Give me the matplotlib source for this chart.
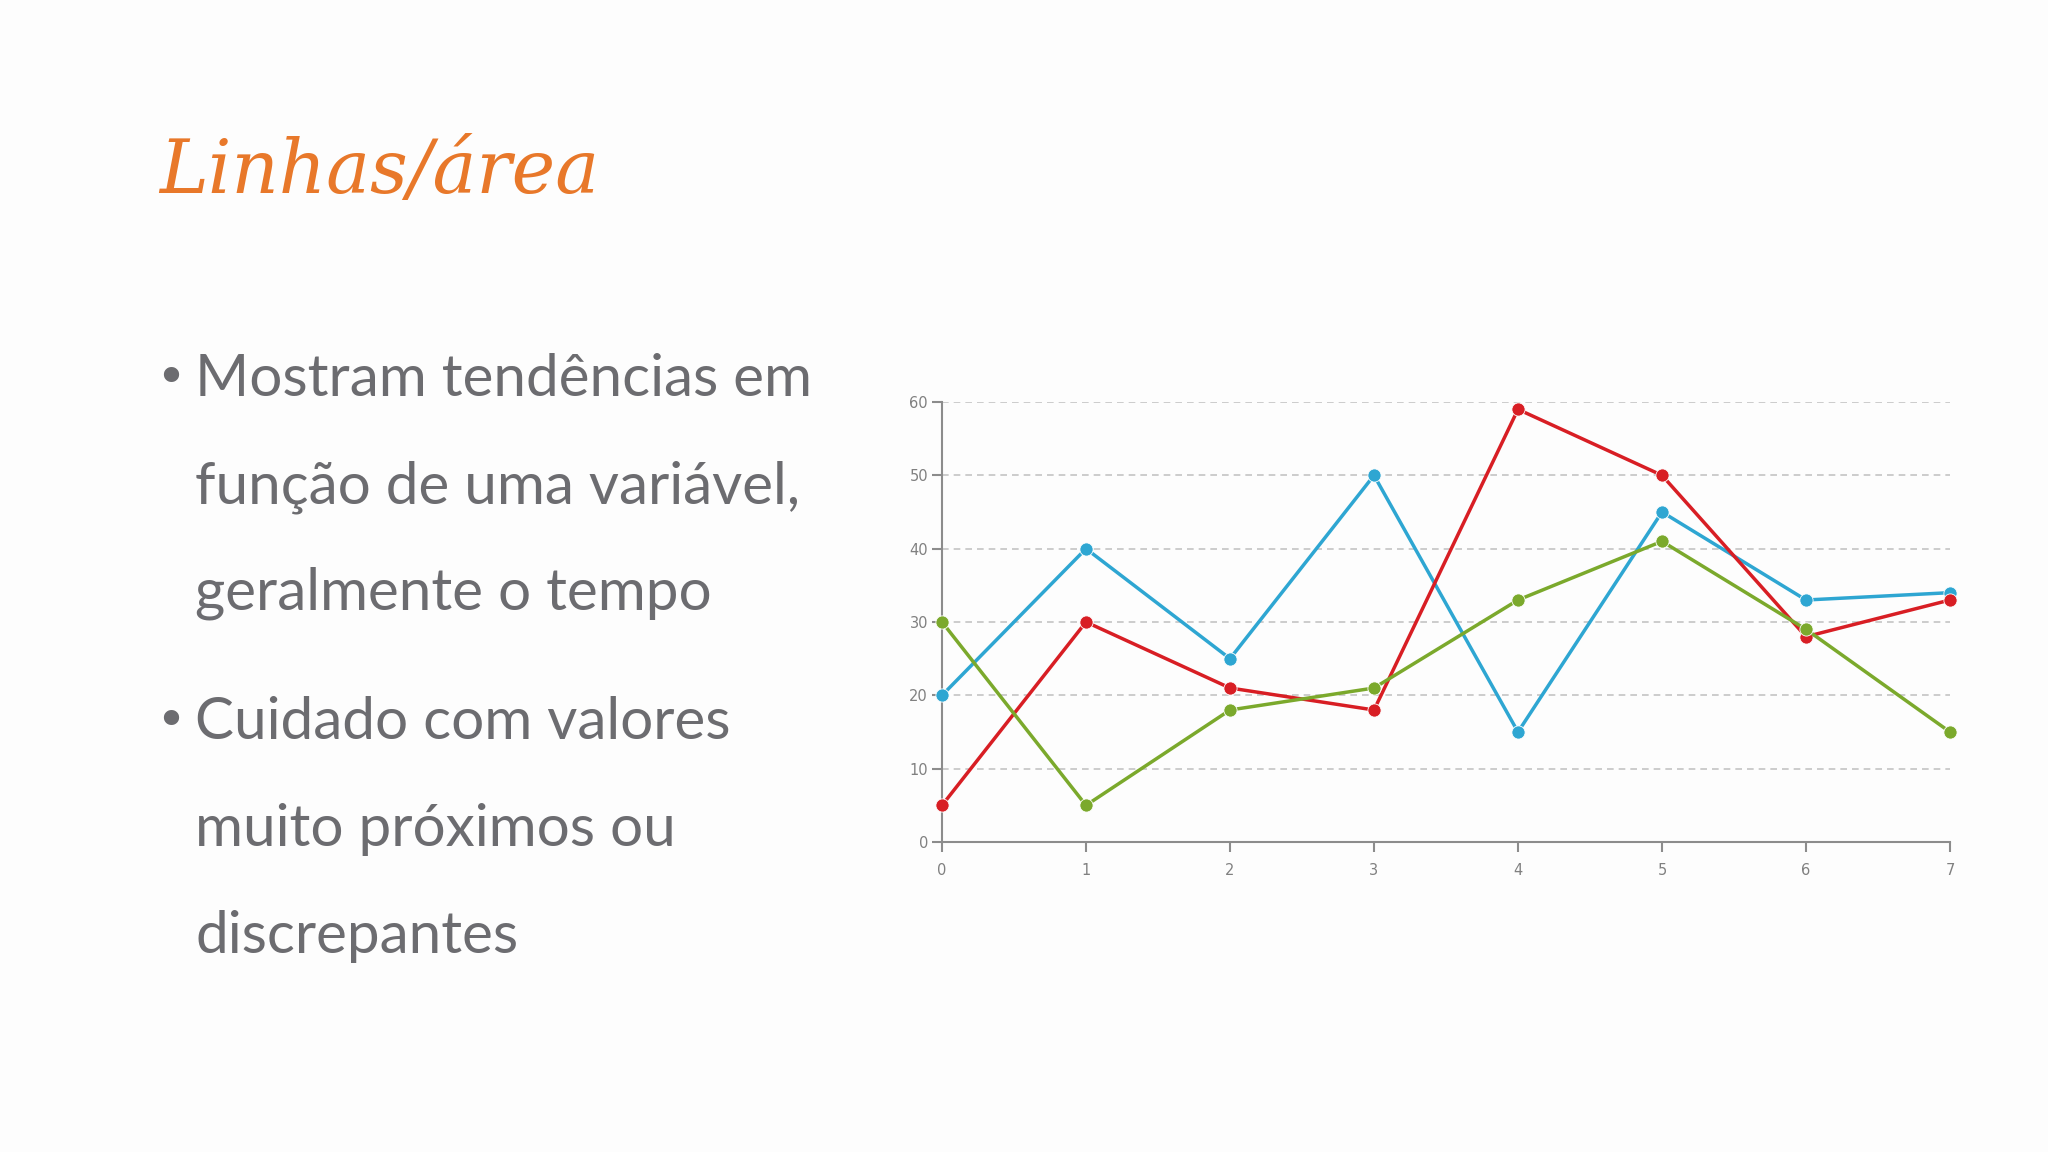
import matplotlib
matplotlib.use("Agg")
import matplotlib.pyplot as plt

# -------- DATA --------
x_vals = [0, 1, 2, 3, 4, 5, 6, 7]
blue_vals = [20, 40, 25, 50, 15, 45, 33, 34]
red_vals = [5, 30, 21, 18, 59, 50, 28, 33]
green_vals = [30, 5, 18, 21, 33, 41, 29, 15]
y_ticks = [0, 10, 20, 30, 40, 50, 60]

title = "Linhas/área"
bullets = [
    ["Mostram tendências em", "função de uma variável,", "geralmente o tempo"],
    ["Cuidado com valores", "muito próximos ou", "discrepantes"],
]
# ----------------------

W, H = 2048, 1152
BG = "#fdfdfd"
TEXT_GREY = "#6c6c70"
AXIS_GREY = "#8c8c8c"

fig = plt.figure(figsize=(W / 100, H / 100), dpi=100, facecolor=BG)

# title (script font not available -> serif italic)
fig.text(159 / W, 1 - 193 / H, title, family="DejaVu Serif", style="italic",
         fontsize=53, color="#e8782a", ha="left", va="baseline")

# bullet text
baseline = 396
for block in bullets:
    fig.text(155 / W, 1 - (baseline - 2) / H, "•", fontsize=38, color=TEXT_GREY,
             ha="left", va="baseline", family="DejaVu Sans")
    for line in block:
        fig.text(195 / W, 1 - baseline / H, line, fontsize=42, color=TEXT_GREY,
                 ha="left", va="baseline", family="Lato")
        baseline += 107
    baseline += 22

# chart
ax = fig.add_axes([942 / W, 1 - 842 / H, (1950 - 942) / W, (842 - 402) / H])
ax.set_facecolor("none")

series = [(blue_vals, "#2ea6d2"), (red_vals, "#d81e24"), (green_vals, "#7ba92c")]
for vals, col in series:
    ax.plot(x_vals, vals, color=col, lw=2.5, marker="o", ms=9.5,
            markeredgecolor="white", markeredgewidth=0.6, clip_on=False, zorder=3)

ax.set_xlim(0, 7)
ax.set_ylim(0, 60)
ax.set_xticks(x_vals)
ax.set_yticks(y_ticks)

for yt in y_ticks[1:]:
    ax.axhline(yt, color="#c4c4c4", lw=1.2, ls=(0, (4, 3)), zorder=1)

for s in ["top", "right"]:
    ax.spines[s].set_visible(False)
for s in ["left", "bottom"]:
    ax.spines[s].set_color(AXIS_GREY)
    ax.spines[s].set_linewidth(1.5)

ax.tick_params(axis="both", colors=AXIS_GREY, length=7, width=1.5,
               labelsize=10.5, labelcolor="#808080")
ax.tick_params(axis="x", pad=8)
ax.tick_params(axis="y", pad=3)

fig.savefig("out.png", dpi=100, facecolor=BG)
